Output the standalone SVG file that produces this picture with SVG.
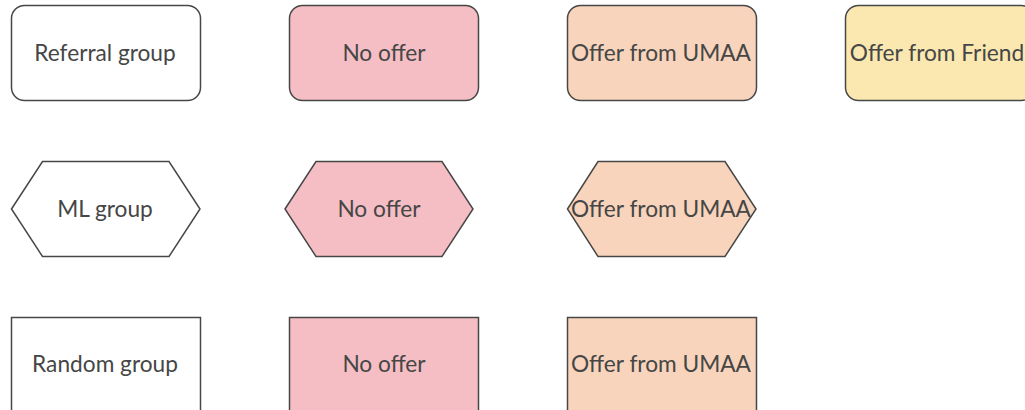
<svg xmlns="http://www.w3.org/2000/svg" width="1025" height="410" viewBox="0 0 1025 410">
<style>
.n{stroke:#474747;stroke-width:1.5}
.w{fill:#ffffff}
.p{fill:#F5BEC4}
.o{fill:#F7D4BB}
.y{fill:#FAE8B0}
.t{font-family:Lato,"Open Sans",sans-serif;font-size:22.7px;fill:#464646;text-anchor:middle;dominant-baseline:central}
</style>
<rect width="1025" height="410" fill="#ffffff"/>
<g id="referral"><rect class="n w" x="11.5" y="5.5" width="189" height="95" rx="13"/><text class="t" x="105" y="52.5">Referral group</text></g>
<g id="ref-no"><rect class="n p" x="289.5" y="5.5" width="189" height="95" rx="13"/><text class="t" x="384" y="52.5">No offer</text></g>
<g id="ref-umaa"><rect class="n o" x="567.5" y="5.5" width="189" height="95" rx="13"/><text class="t" x="661" y="52.5">Offer from UMAA</text></g>
<g id="ref-friend"><rect class="n y" x="845.5" y="5.5" width="189" height="95" rx="13"/><text class="t" x="937" y="52.5">Offer from Friend</text></g>
<g id="ml"><polygon class="n w" points="11.5,209 42.5,161.5 169,161.5 200,209 169,256.5 42.5,256.5"/><text class="t" x="105" y="208.5">ML group</text></g>
<g id="ml-no"><polygon class="n p" points="285,209 316,161.5 442,161.5 473,209 442,256.5 316,256.5"/><text class="t" x="379" y="208.5">No offer</text></g>
<g id="ml-umaa"><polygon class="n o" points="567.5,209 598,161.5 725,161.5 756,209 725,256.5 598,256.5"/><text class="t" x="661" y="208.5">Offer from UMAA</text></g>
<g id="random"><rect class="n w" x="11.5" y="317.5" width="189" height="100"/><text class="t" x="105" y="363.5">Random group</text></g>
<g id="rand-no"><rect class="n p" x="289.5" y="317.5" width="189" height="100"/><text class="t" x="384" y="363.5">No offer</text></g>
<g id="rand-umaa"><rect class="n o" x="567.5" y="317.5" width="189" height="100"/><text class="t" x="661" y="363.5">Offer from UMAA</text></g>
<g id="connectors"></g>
</svg>
